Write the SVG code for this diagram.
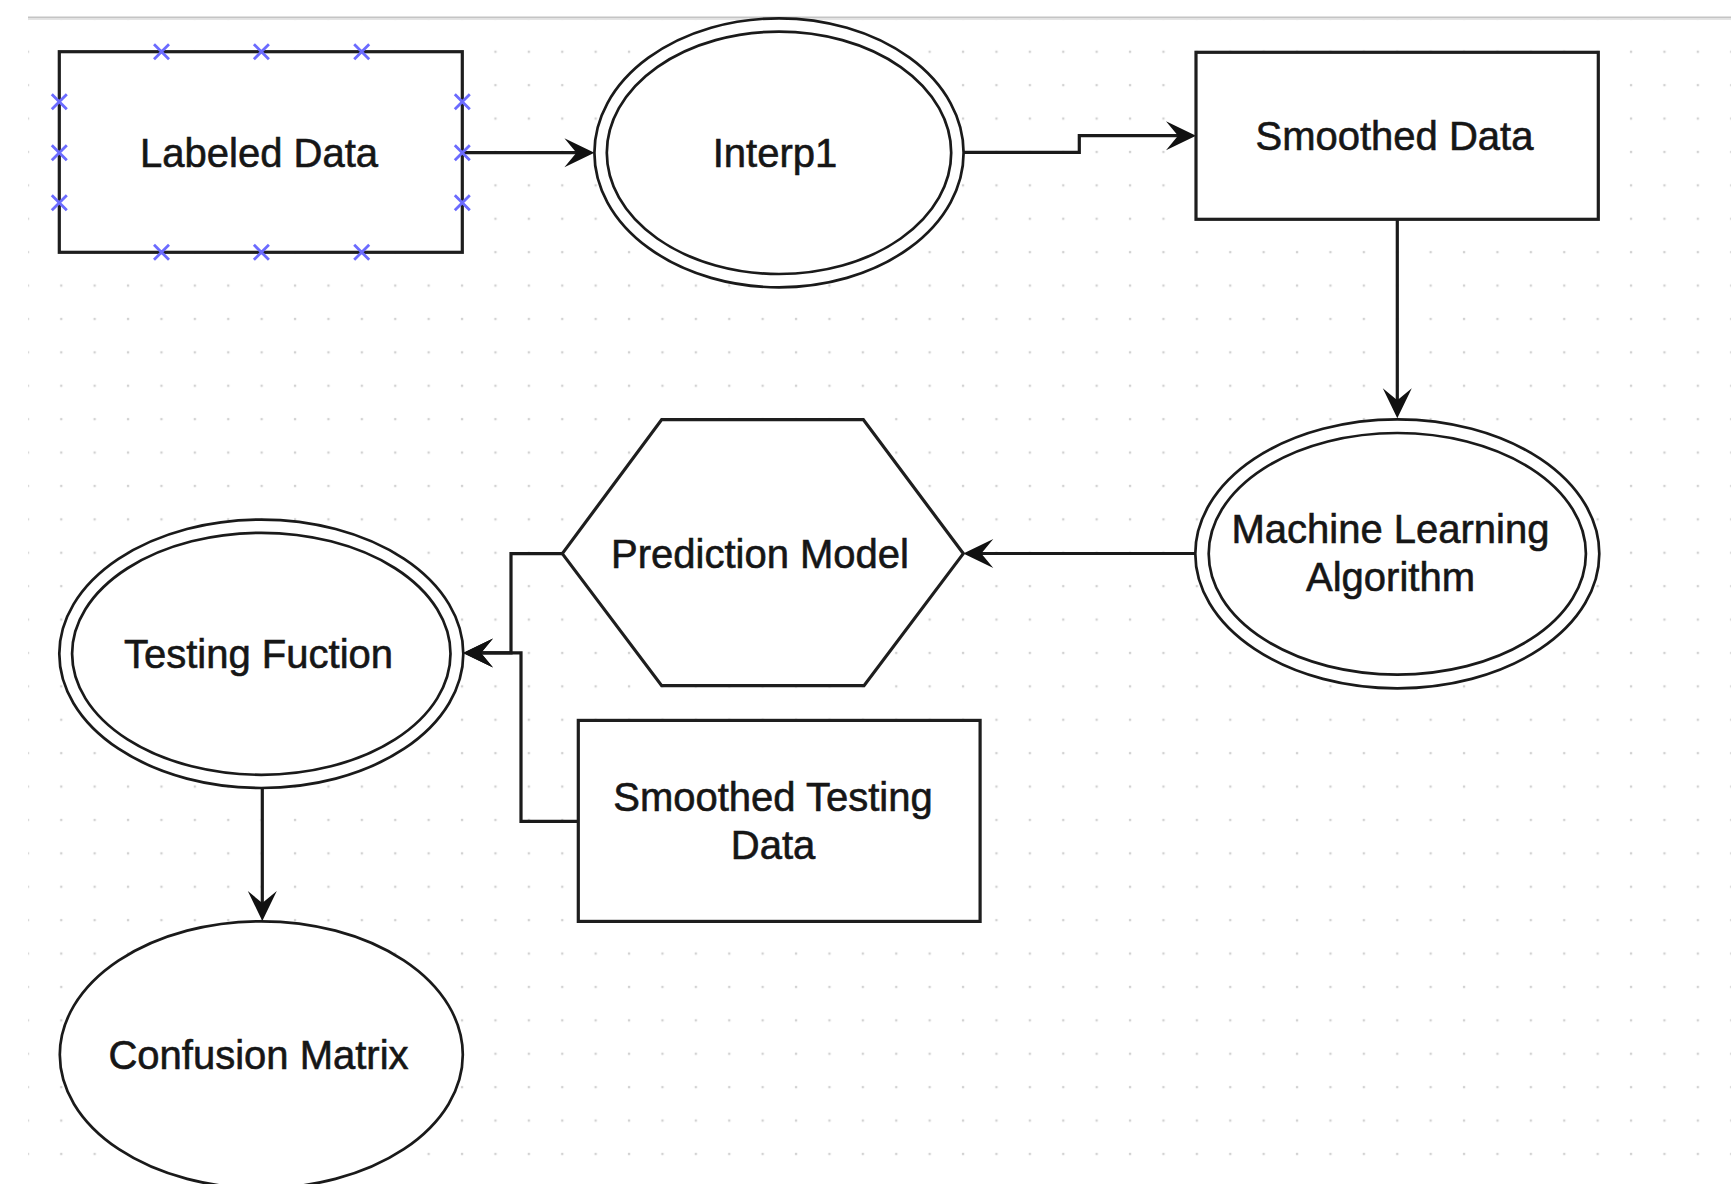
<svg xmlns="http://www.w3.org/2000/svg" xmlns:xlink="http://www.w3.org/1999/xlink" width="1731" height="1184" viewBox="0 0 1731 1184">
  <style>
    .shape { fill: #ffffff; stroke: #1e1e1e; stroke-width: 3.2; }
    .ell { fill: #ffffff; stroke: #1a1a1a; stroke-width: 2.7; }
    .ell-in { fill: none; stroke: #1a1a1a; stroke-width: 2.7; }
    .conn { fill: none; stroke: #1a1a1a; stroke-width: 3.2; }
    .lbl { font-family: "Liberation Sans", Arial, Helvetica, sans-serif; font-size: 40px; fill: #161616; stroke: #161616; stroke-width: 0.6; text-anchor: middle; }
    .xm { fill: none; stroke: #6b6bff; stroke-width: 2.8; }
  </style>
  <defs>
    <pattern id="grid" x="11.1" y="1.6" width="33.4" height="33.4" patternUnits="userSpaceOnUse">
      <rect x="15.6" y="15.6" width="2.3" height="2.3" fill="#d2d2d2"/>
    </pattern>
    <marker id="arrow" markerUnits="userSpaceOnUse" viewBox="-20 -16 34 32" markerWidth="34" markerHeight="32" refX="0" refY="0" orient="auto">
      <path d="M12,0 L-18,-14.5 L-6,0 L-18,14.5 Z" fill="#111111"/>
    </marker>
    <path id="xmark" class="xm" d="M-7.5,-7.5 L7.5,7.5 M-7.5,7.5 L7.5,-7.5"/>
  </defs>

  <rect x="0" y="0" width="1731" height="1184" fill="#ffffff"/>
  <rect x="28" y="19" width="1703" height="1165" fill="url(#grid)"/>
  <rect x="28" y="16.5" width="1703" height="2" fill="#c4c4c4"/>
  <rect x="28" y="18.5" width="1703" height="1.5" fill="#e4e4e4"/>

  <g id="connectors">
    <path class="conn" d="M462,152.7 H582.4" marker-end="url(#arrow)"/>
    <path class="conn" d="M963.7,152.3 H1079.3 V135.7 H1184" marker-end="url(#arrow)"/>
    <path class="conn" d="M1397.3,219.3 V406.3" marker-end="url(#arrow)"/>
    <path class="conn" d="M1195,553.5 H975.3" marker-end="url(#arrow)"/>
    <path class="conn" d="M562.3,553.6 H511 V652.9 H475" marker-end="url(#arrow)"/>
    <path class="conn" d="M578.3,821.4 H521 V652.9 H475" marker-end="url(#arrow)"/>
    <path class="conn" d="M262.3,788 V909" marker-end="url(#arrow)"/>
  </g>

  <g id="labeled-data">
    <rect class="shape" x="59.3" y="51.7" width="403" height="200.6"/>
    <text class="lbl" x="259" y="166.7">Labeled Data</text>
    <use xlink:href="#xmark" x="161.5" y="51.7"/>
    <use xlink:href="#xmark" x="261.4" y="51.7"/>
    <use xlink:href="#xmark" x="361.7" y="51.7"/>
    <use xlink:href="#xmark" x="161.5" y="252.3"/>
    <use xlink:href="#xmark" x="261.4" y="252.3"/>
    <use xlink:href="#xmark" x="361.7" y="252.3"/>
    <use xlink:href="#xmark" x="59.3" y="101.7"/>
    <use xlink:href="#xmark" x="59.3" y="152.7"/>
    <use xlink:href="#xmark" x="59.3" y="202.7"/>
    <use xlink:href="#xmark" x="462.3" y="101.7"/>
    <use xlink:href="#xmark" x="462.3" y="152.7"/>
    <use xlink:href="#xmark" x="462.3" y="202.7"/>
  </g>

  <g id="interp1">
    <ellipse class="ell" cx="779" cy="152.8" rx="184.6" ry="134.5"/>
    <ellipse class="ell-in" cx="779" cy="152.8" rx="172.2" ry="121.2"/>
    <text class="lbl" x="775" y="166.7">Interp1</text>
  </g>

  <g id="smoothed-data">
    <rect class="shape" x="1196" y="52.3" width="402.3" height="167"/>
    <text class="lbl" x="1394.5" y="150">Smoothed Data</text>
  </g>

  <g id="ml-algorithm">
    <ellipse class="ell" cx="1397.3" cy="553.8" rx="202" ry="134.5"/>
    <ellipse class="ell-in" cx="1397.3" cy="553.8" rx="188.6" ry="120.8"/>
    <text class="lbl" x="1390.5" y="543.3">Machine Learning</text>
    <text class="lbl" x="1390.5" y="590.7">Algorithm</text>
  </g>

  <g id="prediction-model">
    <polygon class="shape" points="562.3,553.6 661.7,419.6 863.3,419.6 963.3,553.6 864,685.7 661.7,685.7"/>
    <text class="lbl" x="760" y="568">Prediction Model</text>
  </g>

  <g id="testing-function">
    <ellipse class="ell" cx="261.3" cy="653.8" rx="202" ry="134.2"/>
    <ellipse class="ell-in" cx="261.3" cy="653.8" rx="189.2" ry="121"/>
    <text class="lbl" x="258.5" y="668">Testing Fuction</text>
  </g>

  <g id="smoothed-testing-data">
    <rect class="shape" x="578.3" y="720.4" width="401.8" height="201"/>
    <text class="lbl" x="773" y="810.7">Smoothed Testing</text>
    <text class="lbl" x="773" y="858.9">Data</text>
  </g>

  <g id="confusion-matrix">
    <ellipse class="ell" cx="261.3" cy="1054.8" rx="201.5" ry="133.5"/>
    <text class="lbl" x="258.5" y="1069">Confusion Matrix</text>
  </g>
</svg>
